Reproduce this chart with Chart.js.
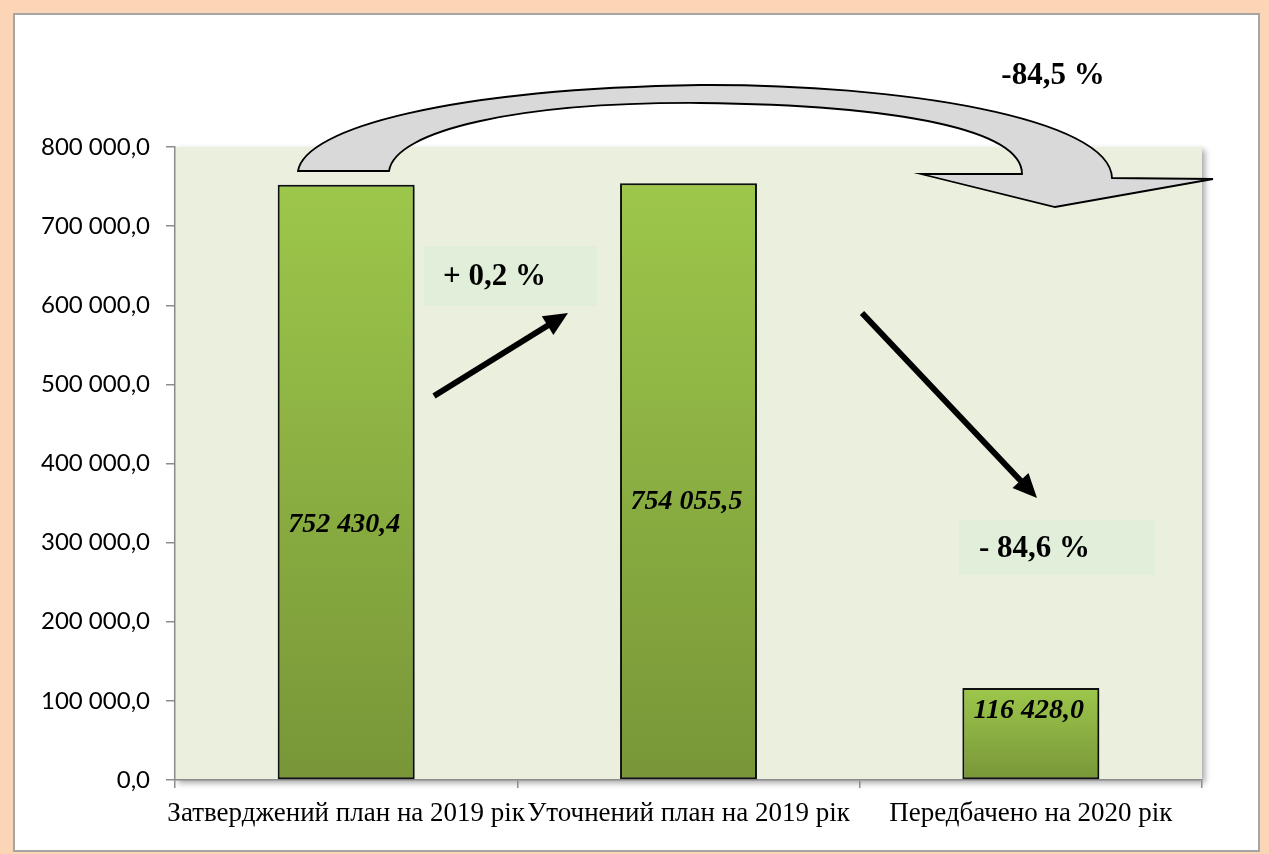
<!DOCTYPE html>
<html><head><meta charset="utf-8">
<script src="https://cdn.jsdelivr.net/npm/chart.js@4"></script>
<style>
html,body{margin:0;padding:0;background:#fbd5b5;width:1269px;height:854px;overflow:hidden;}
#frame{position:absolute;left:13px;top:13px;width:1247px;height:839px;background:#fff;border:2px solid #a5a5a5;box-sizing:border-box;}
#c{position:absolute;left:0;top:0;width:1269px;height:854px;}
</style></head><body>
<div id="frame"></div>
<canvas id="c" width="1269" height="854"></canvas>
<script>
const categories = ['Затверджений план на 2019 рік', 'Уточнений план на 2019 рік', 'Передбачено на 2020 рік'];
const values = [752430.4, 754055.5, 116428.0];
const valueLabels = ['752 430,4', '754 055,5', '116 428,0'];
const yTickValues = [0, 100000, 200000, 300000, 400000, 500000, 600000, 700000, 800000];
const yTickLabels = ['0,0', '100 000,0', '200 000,0', '300 000,0', '400 000,0', '500 000,0', '600 000,0', '700 000,0', '800 000,0'];
const changeLabels = ['+ 0,2 %', '- 84,6 %', '-84,5 %'];

// fraction of bar height (from top) where the value label sits
const labelFrac = [0.572, 0.534, 0.25];

function barGradient(ctx) {
  const chart = ctx.chart;
  const y = chart.scales && chart.scales.y;
  if (!y || ctx.dataIndex === undefined) return '#8db046';
  const top = y.getPixelForValue(values[ctx.dataIndex]);
  const bot = y.getPixelForValue(0);
  if (!isFinite(top) || !isFinite(bot) || top === bot) return '#8db046';
  const g = chart.ctx.createLinearGradient(0, top, 0, bot);
  g.addColorStop(0, '#9dc74b');
  g.addColorStop(1, '#789638');
  return g;
}

function drawArrow(c, x1, y1, x2, y2) {
  const a = Math.atan2(y2 - y1, x2 - x1);
  const hl = 24, hw = 11;
  const bx = x2 - hl * Math.cos(a), by = y2 - hl * Math.sin(a);
  c.save();
  c.strokeStyle = '#000'; c.fillStyle = '#000';
  c.lineWidth = 6; c.lineCap = 'butt';
  c.beginPath(); c.moveTo(x1, y1); c.lineTo(bx + 4 * Math.cos(a), by + 4 * Math.sin(a)); c.stroke();
  c.beginPath();
  c.moveTo(x2, y2);
  c.lineTo(bx - hw * Math.sin(a), by + hw * Math.cos(a));
  c.lineTo(bx + hw * Math.sin(a), by - hw * Math.cos(a));
  c.closePath(); c.fill();
  c.restore();
}

const decor = {
  id: 'decor',
  beforeDraw(chart) {
    const {ctx, chartArea: a} = chart;
    ctx.save();
    ctx.shadowColor = 'rgba(0,0,0,0.35)';
    ctx.shadowBlur = 6; ctx.shadowOffsetX = 3; ctx.shadowOffsetY = 3;
    ctx.fillStyle = '#ebf0de';
    ctx.fillRect(a.left, a.top, a.right - a.left, a.bottom - a.top);
    ctx.restore();
  },
  beforeDatasetsDraw(chart) {
    const c = chart.ctx;
    c.save();
    c.shadowColor = 'rgba(0,0,0,0.35)';
    c.shadowBlur = 4; c.shadowOffsetX = 2; c.shadowOffsetY = 1;
  },
  afterDatasetsDraw(chart) {
    const c = chart.ctx;
    c.restore();
    const meta = chart.getDatasetMeta(0);
    c.save();
    c.font = 'italic bold 28px "Liberation Serif", "Times New Roman", serif';
    c.fillStyle = '#000'; c.textAlign = 'center'; c.textBaseline = 'middle';
    meta.data.forEach((el, i) => {
      const ly = el.y + (el.base - el.y) * labelFrac[i];
      c.fillText(valueLabels[i], el.x - 2, ly);
    });
    c.restore();
  },
  afterDraw(chart) {
    const c = chart.ctx;
    c.save();
    // change boxes
    c.fillStyle = '#e1eed9';
    c.fillRect(424, 246, 173, 60);
    c.fillRect(959, 520, 196, 55);
    c.font = 'bold 31px "Liberation Serif", "Times New Roman", serif';
    c.fillStyle = '#000'; c.textBaseline = 'middle'; c.textAlign = 'left';
    c.fillText(changeLabels[0], 443, 277);
    c.fillText(changeLabels[1], 979, 549);
    c.textAlign = 'center';
    c.fillText(changeLabels[2], 1053, 76);
    // straight arrows
    drawArrow(c, 434, 396, 568, 313);
    drawArrow(c, 862, 313, 1037, 498);
    // curved arrow
    c.beginPath();
    c.moveTo(298, 171);
    c.bezierCurveTo(305, 128, 450, 89, 700, 85);
    c.bezierCurveTo(900, 84, 1110, 118, 1112, 178);
    c.lineTo(1213, 179);
    c.lineTo(1055, 207);
    c.lineTo(921, 174);
    c.lineTo(1022, 174);
    c.bezierCurveTo(1022, 130, 900, 105, 700, 103);
    c.bezierCurveTo(520, 102, 395, 130, 389, 171);
    c.closePath();
    c.fillStyle = '#d9d9d9';
    c.fill();
    c.lineWidth = 1.8; c.strokeStyle = '#000'; c.lineJoin = 'miter';
    c.stroke();
    c.restore();
  }
};

new Chart(document.getElementById('c'), {
  type: 'bar',
  data: {
    labels: categories,
    datasets: [{
      data: values,
      backgroundColor: barGradient,
      borderColor: '#111',
      borderWidth: 2,
      borderSkipped: false,
      categoryPercentage: 1.0,
      barPercentage: 0.4
    }]
  },
  options: {
    responsive: false,
    animation: false,
    devicePixelRatio: 1,
    layout: { padding: { top: 147, right: 67, left: 0, bottom: 0 } },
    plugins: { legend: { display: false }, tooltip: { enabled: false } },
    scales: {
      x: {
        offset: true,
        grid: { offset: true, drawOnChartArea: false, drawTicks: true, tickLength: 8, color: '#8c8c8c', lineWidth: 1.5 },
        border: { color: '#8c8c8c', width: 1.5 },
        ticks: { color: '#000', font: { family: '"Liberation Serif", "Times New Roman", serif', size: 27 }, padding: 10, autoSkip: false, maxRotation: 0, minRotation: 0 },
        afterFit(s) { s.height = 74; }
      },
      y: {
        min: 0, max: 800000,
        afterBuildTicks(s) { s.ticks = yTickValues.map(v => ({ value: v })); },
        ticks: { color: '#000', font: { family: 'Lato, "Noto Sans", sans-serif', size: 24 }, padding: 16,
          callback: (v) => yTickLabels[yTickValues.indexOf(v)] },
        grid: { drawOnChartArea: false, drawTicks: true, tickLength: 9, color: '#8c8c8c', lineWidth: 1.5 },
        border: { color: '#8c8c8c', width: 1.5 },
        afterFit(s) { s.width = 175; }
      }
    }
  },
  plugins: [decor]
});
</script>
</body></html>
